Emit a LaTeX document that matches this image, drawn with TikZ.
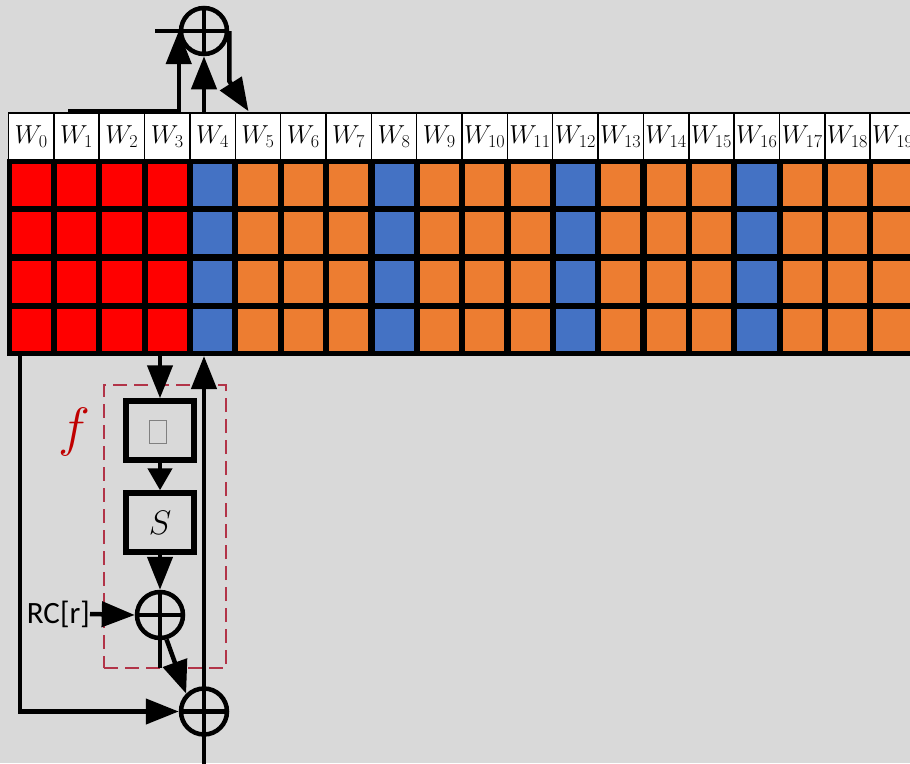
\documentclass[tikz,border=0pt]{standalone}
\usepackage{fix-cm}
\usepackage{fontspec}
\newfontfamily\calib{Carlito}
\usetikzlibrary{arrows.meta,calc}
\definecolor{bg}{HTML}{D9D9D9}
\definecolor{cred}{HTML}{FF0000}
\definecolor{cblue}{HTML}{4472C4}
\definecolor{corange}{HTML}{ED7D31}
\definecolor{fred}{HTML}{C00000}
\definecolor{dashred}{RGB}{178,52,72}
\tikzset{
  hdr/.style={draw=black, fill=white, line width=1.5pt, minimum width=45.35pt, minimum height=47pt, inner sep=0pt, font=\fontsize{26}{28}\selectfont},
  conn/.style={line width=4.5pt},
  arr/.style={conn, -{Triangle[length=33pt,width=25pt]}},
  sarr/.style={conn, -{Triangle[length=22pt,width=24pt]}},
  xorc/.style={circle, draw=black, line width=4.5pt, minimum size=46pt, inner sep=0pt,
    path picture={\draw[line width=4.5pt] (path picture bounding box.north) -- (path picture bounding box.south)
      (path picture bounding box.west) -- (path picture bounding box.east);}},
  fbx/.style={draw=black, line width=5.5pt, minimum width=68pt, minimum height=59pt, inner sep=0pt},
  dashbox/.style={draw=dashred, line width=2pt, dash pattern=on 14pt off 7pt, minimum width=122pt, minimum height=283pt, inner sep=0pt},
}
\begin{document}
\begin{tikzpicture}[x=1pt,y=-1pt]
\useasboundingbox (0,0) rectangle (910,763);
\clip (0,0) rectangle (910,763);
\fill[bg] (0,0) rectangle (910,763);

% colored grid
\fill[black] (6.5,159) rectangle (915,355.5);
\foreach \k in {0,...,19}{
  \pgfmathtruncatemacro\m{mod(\k,4)}
  \ifnum\k<4 \def\cc{cred}\else\ifnum\m=0 \def\cc{cblue}\else\def\cc{corange}\fi\fi
  \foreach \r in {0,...,3}{
    \fill[\cc] ({8.5+45.35*\k+3.2},{164.3+48.1*\r}) rectangle ++(39.2,42);
  }
  \node[hdr] (h\k) at ({8.5+45.35*\k+22.675},136.5) {$W_{\k}$};
}

% top xor
\node[xorc] (tx) at (204,31) {};
\draw[conn] (tx.center) -- ++(-49,0);
\coordinate (tl) at (68,111);
\draw[arr] (tl) -- (tx.west |- tl) -- (tx.west);
\draw[arr] (tx.south |- h4.north) -- (tx.south);
\coordinate (w5in) at ($(h5.north west)+(14,-1)$);
\draw[arr] (tx.east) -- ++(0,50) -- (w5in);

% function f
\node[dashbox] (fd) at (165,526.5) {};
\node[text=fred, inner sep=0pt] (flab) at (74,432) {\fontsize{54}{54}\selectfont$f$};
\node[fbx] (fbox) at (160,430.5) {};
\node[draw=gray, line width=1pt, minimum width=17pt, minimum height=23pt, inner sep=0pt] (glyph) at (157.5,432) {};
\node[fbx] (sbox) at (160,522.5) {\fontsize{34}{34}\selectfont$S$};
\node[xorc] (rcx) at (160,615) {};
\node[inner sep=0pt, anchor=east] (rc) at (90,614) {\calib\fontsize{31}{32}\selectfont RC[r]};
\node[xorc] (outx) at (204,711.5) {};

\coordinate (g3) at (160,355);
\coordinate (gL) at (20,355);
\coordinate (g4) at (204,356);
\coordinate (bot) at (204,765);

\draw[arr] (g3) -- (fbox.north);
\draw[sarr] (fbox.south) -- (sbox.north);
\draw[arr] (sbox.south) -- (rcx.north);
\draw[arr] (rc.east) -- (rcx.west);
\draw[conn] (rcx.south) -- ++(0,28);
\draw[arr] (rcx.-75) -- (outx.north west);
\draw[arr] (gL) |- (outx.west);
\draw[arr] (bot) -- (g4);
\end{tikzpicture}
\end{document}
